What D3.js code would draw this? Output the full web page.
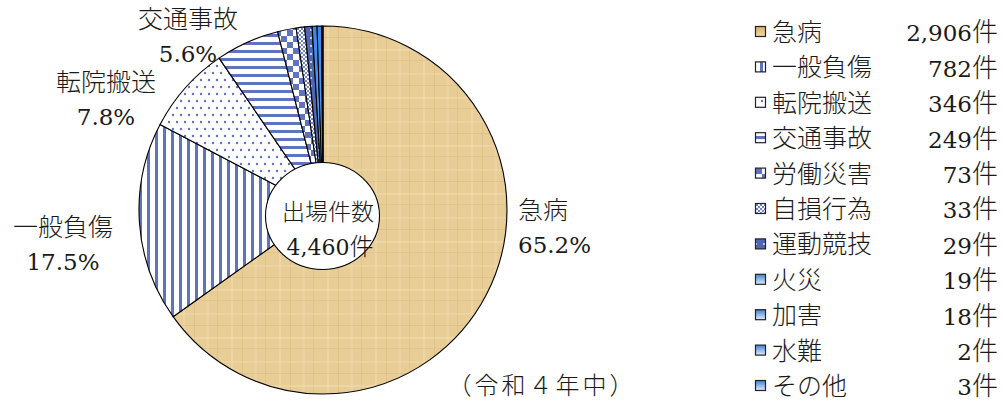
<!DOCTYPE html>
<html lang="ja">
<head>
<meta charset="utf-8">
<script src="https://cdn.jsdelivr.net/npm/d3@7"></script>
<style>
  html, body { margin: 0; padding: 0; background: #fff; }
</style>
</head>
<body>
<svg id="chart" width="1003" height="403"></svg>
<script>
// ---- Data ----
const categories = ["急病", "一般負傷", "転院搬送", "交通事故", "労働災害", "自損行為", "運動競技", "火災", "加害", "水難", "その他"];
const counts = [2906, 782, 346, 249, 73, 33, 29, 19, 18, 2, 3];
const fills = ["tan", "vstripe", "dots", "hstripe", "checker", "finechk", "darkdot", "blue", "blue", "blue", "blue"];
const centerTitle = "出場件数";
const periodNote = "（令和４年中）";
const unit = "件";

// slice labels shown beside the pie (name + percent), placed by hand
const sliceLabels = [
  { i: 0, x: 518, y: 210, anchor: "start" },
  { i: 1, x: 63,  y: 227, anchor: "middle" },
  { i: 2, x: 106, y: 82,  anchor: "middle" },
  { i: 3, x: 188, y: 19,  anchor: "middle" }
];

const CJK = "Noto Sans CJK JP";
const SERIF = "DejaVu Serif, serif";
const INK = "#1a1a1a";

const svg = d3.select("#chart");
const defs = svg.append("defs");
const BLUE = "#6074BD";

// ---- Patterns ----
function pattern(id, w, h) {
  return defs.append("pattern").attr("id", id)
    .attr("patternUnits", "userSpaceOnUse").attr("width", w).attr("height", h);
}

// paper-like tan texture
const tan = pattern("tan", 48, 48);
tan.append("rect").attr("width", 48).attr("height", 48).attr("fill", "#E8CD96");
[[4, 2, "#F0DAA9"], [15, 1, "#DABC80"], [27, 3, "#EDD5A1"], [38, 1, "#DCBF85"]].forEach(([x, w, c]) =>
  tan.append("rect").attr("x", x).attr("width", w).attr("height", 48).attr("fill", c).attr("opacity", 0.7));
[[7, 2, "#EFD8A6"], [19, 1, "#D9BB7E"], [31, 2, "#F1DCAD"], [42, 1, "#DDC086"]].forEach(([y, h, c]) =>
  tan.append("rect").attr("y", y).attr("height", h).attr("width", 48).attr("fill", c).attr("opacity", 0.6));

const vs = pattern("vstripe", 8, 8);
vs.append("rect").attr("width", 8).attr("height", 8).attr("fill", "#fff");
vs.append("rect").attr("width", 3).attr("height", 8).attr("fill", BLUE);

const hs = pattern("hstripe", 8, 8);
hs.append("rect").attr("width", 8).attr("height", 8).attr("fill", "#fff");
hs.append("rect").attr("width", 8).attr("height", 3).attr("fill", BLUE);

const dt = pattern("dots", 8, 14);
dt.append("rect").attr("width", 8).attr("height", 14).attr("fill", "#fff");
dt.append("circle").attr("cx", 2).attr("cy", 3).attr("r", 1.2).attr("fill", BLUE);
dt.append("circle").attr("cx", 6).attr("cy", 10).attr("r", 1.2).attr("fill", BLUE);

const ck = pattern("checker", 12, 12);
ck.append("rect").attr("width", 12).attr("height", 12).attr("fill", "#fff");
ck.append("rect").attr("width", 6).attr("height", 6).attr("fill", BLUE);
ck.append("rect").attr("x", 6).attr("y", 6).attr("width", 6).attr("height", 6).attr("fill", BLUE);

const fc = pattern("finechk", 4, 4);
fc.append("rect").attr("width", 4).attr("height", 4).attr("fill", "#fff");
fc.append("rect").attr("width", 2).attr("height", 2).attr("fill", "#7386C8");
fc.append("rect").attr("x", 2).attr("y", 2).attr("width", 2).attr("height", 2).attr("fill", "#7386C8");

const dd = pattern("darkdot", 8, 8);
dd.append("rect").attr("width", 8).attr("height", 8).attr("fill", "#4F66B0");
dd.append("circle").attr("cx", 4).attr("cy", 4).attr("r", 0.9).attr("fill", "#fff");

const gBlue = defs.append("linearGradient").attr("id", "blue")
  .attr("x1", 0).attr("y1", 0).attr("x2", 0).attr("y2", 1);
gBlue.append("stop").attr("offset", "0%").attr("stop-color", "#3A86EC");
gBlue.append("stop").attr("offset", "100%").attr("stop-color", "#7FB2F2");

const gBlueLeg = defs.append("linearGradient").attr("id", "blueLeg")
  .attr("x1", 0).attr("y1", 0).attr("x2", 0).attr("y2", 1);
gBlueLeg.append("stop").attr("offset", "0%").attr("stop-color", "#3E80DA");
gBlueLeg.append("stop").attr("offset", "100%").attr("stop-color", "#E4EEFB");

const gTanLeg = defs.append("linearGradient").attr("id", "tanLeg")
  .attr("x1", 0).attr("y1", 0).attr("x2", 0).attr("y2", 1);
gTanLeg.append("stop").attr("offset", "0%").attr("stop-color", "#D7B06A");
gTanLeg.append("stop").attr("offset", "100%").attr("stop-color", "#EFD9A9");

// ---- Pie ----
const cx = 323, cy = 210, R = 184;
const total = d3.sum(counts);
const data = categories.map((c, i) => ({ name: c, value: counts[i], fill: fills[i] }));

const pie = d3.pie().sort(null).value(d => d.value);
const arc = d3.arc().innerRadius(0).outerRadius(R);

const g = svg.append("g").attr("transform", `translate(${cx},${cy})`);
g.selectAll("path")
  .data(pie(data))
  .join("path")
  .attr("d", arc)
  .attr("fill", d => `url(#${d.data.fill})`)
  .attr("stroke", "#000")
  .attr("stroke-width", 1.1)
  .attr("stroke-linejoin", "round");

// center hole
svg.append("ellipse")
  .attr("cx", 322.5).attr("cy", 216).attr("rx", 57).attr("ry", 53.5)
  .attr("fill", "#fff").attr("stroke", "#000").attr("stroke-width", 1.1);

// text helpers: y is the visual middle of the line
function label(x, y, size, anchor) {
  return svg.append("text").attr("x", x).attr("y", y).attr("dy", "0.36em")
    .attr("text-anchor", anchor).attr("font-size", size).attr("fill", INK);
}
function cjk(sel, s) {
  sel.append("tspan").attr("font-family", CJK).attr("font-weight", 300).text(s);
}
function num(sel, s, size) {
  sel.append("tspan").attr("font-family", SERIF).attr("font-size", size).text(s);
}

cjk(label(328, 212, 23, "middle"), centerTitle);
const ctr = label(330, 246, 24, "middle");
num(ctr, d3.format(",")(total), 22);
cjk(ctr, unit);

// ---- Slice labels ----
const pct = d3.format(".1f");
sliceLabels.forEach(l => {
  cjk(label(l.x, l.y, 25, l.anchor), categories[l.i]);
  num(label(l.x, l.y + 34, 26, l.anchor), pct(counts[l.i] / total * 100) + "%", 23);
});

cjk(label(542, 385, 24, "middle").attr("letter-spacing", 3), periodNote);

// ---- Legend ----
const legY = d3.scalePoint().domain(categories).range([32, 386]);
const legendFill = f => f === "tan" ? "url(#tanLeg)" : f === "blue" ? "url(#blueLeg)" : `url(#${f})`;

svg.append("g").selectAll("rect")
  .data(data)
  .join("rect")
  .attr("x", 755.5).attr("y", d => legY(d.name) - 5.5).attr("width", 10).attr("height", 10)
  .attr("fill", d => legendFill(d.fill))
  .attr("stroke", "#222").attr("stroke-width", 1.2);

data.forEach(d => {
  cjk(label(772, legY(d.name), 25, "start"), d.name);
  const v = label(998, legY(d.name), 26, "end");
  num(v, d3.format(",")(d.value), 23);
  cjk(v, unit);
});
</script>
</body>
</html>
